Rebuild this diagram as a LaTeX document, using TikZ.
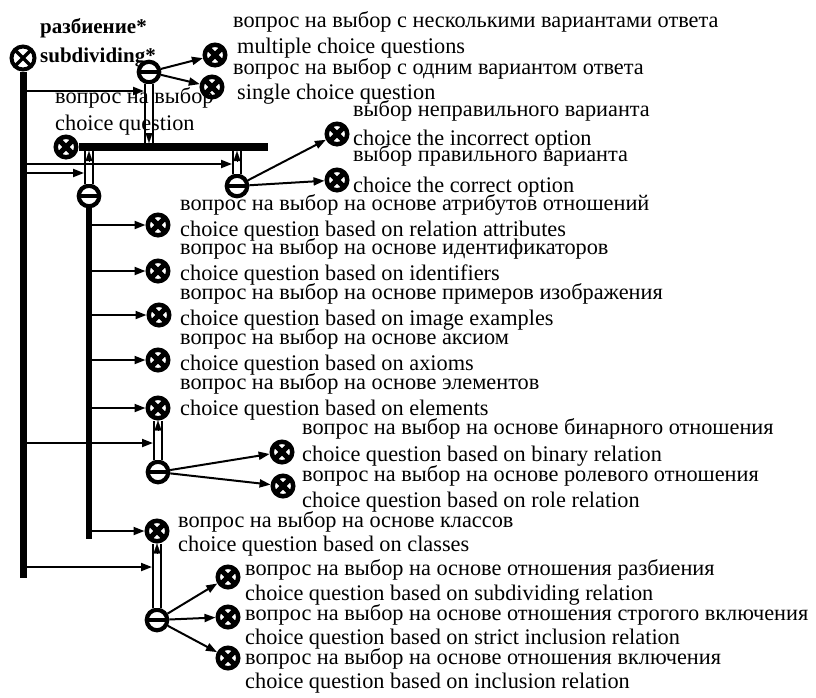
\documentclass[tikz,border=0pt]{standalone}
\usepackage{fontspec}
\setmainfont{Liberation Serif}
\usetikzlibrary{arrows.meta,calc}
\tikzset{
  clsnode/.style={circle, draw, line width=4.5pt, fill=white, minimum size=20.5pt, inner sep=0pt,
    path picture={\draw[line width=5.2pt]
      (path picture bounding box.north west) -- (path picture bounding box.south east)
      (path picture bounding box.north east) -- (path picture bounding box.south west);}},
  rootnode/.style={circle, draw, line width=4pt, fill=white, minimum size=23pt, inner sep=0pt,
    path picture={\draw[line width=3.4pt]
      (path picture bounding box.north west) -- (path picture bounding box.south east)
      (path picture bounding box.north east) -- (path picture bounding box.south west);}},
  tupnode/.style={circle, draw, line width=4.2pt, fill=white, minimum size=20.5pt, inner sep=0pt,
    path picture={\draw[line width=4pt]
      (path picture bounding box.west) -- (path picture bounding box.east);}},
  acc/.style={line width=2pt, -{Triangle[length=11pt,width=8pt]}},
  dbl/.style={draw, line width=1.8pt, double distance=6pt},
  tiparr/.style={line width=0.1pt, -{Triangle[length=10pt,width=7pt]}},
  bus/.style={line width=7pt},
  lab/.style={anchor=base west, inner sep=0pt, font=\fontsize{22.3}{26}\selectfont},
  blab/.style={anchor=base west, inner sep=0pt, font=\fontsize{21}{24}\selectfont\bfseries},
}
\begin{document}
\begin{tikzpicture}[x=1pt,y=-1pt]
\useasboundingbox (0,0) rectangle (816,697);

% ---------- coordinates ----------
\coordinate (rootend) at (23,578);
\coordinate (barend) at (268,147);
\coordinate (b1) at (149,143);
\coordinate (b2) at (237,151);
\coordinate (b3) at (89,151);
\coordinate (t3end) at (89,539);
\coordinate (r1) at (23,91);   \coordinate (d1) at (144,91);
\coordinate (r2) at (23,164);  \coordinate (d2) at (232,164);
\coordinate (r3) at (23,173);  \coordinate (d3) at (84,173);
\coordinate (r4) at (23,443);  \coordinate (d4) at (153,443);
\coordinate (r5) at (23,567);  \coordinate (d5) at (152,567);
\coordinate (s1) at (89,225);
\coordinate (s2) at (89,271);
\coordinate (s3) at (89,315);
\coordinate (s4) at (89,360);
\coordinate (s5) at (89,408);
\coordinate (s6) at (89,531);

% ---------- nodes ----------
\node[rootnode] (root) at (23,58) {};
\node[clsnode] (cq) at (66,147) {};
\node[tupnode] (t1) at (149,72) {};
\node[clsnode] (mcq) at (215,55) {};
\node[clsnode] (scq) at (212,87) {};
\node[tupnode] (t2) at (237,186) {};
\node[clsnode] (inc) at (337,134) {};
\node[clsnode] (cor) at (337,180) {};
\node[tupnode] (t3) at (89,196) {};
\node[clsnode] (attr) at (158,225) {};
\node[clsnode] (ident) at (158,271) {};
\node[clsnode] (img) at (159,315) {};
\node[clsnode] (ax) at (158,360) {};
\node[clsnode] (el) at (158,408) {};
\node[tupnode] (t4) at (158,472) {};
\node[clsnode] (bin) at (282,452) {};
\node[clsnode] (role) at (283,486) {};
\node[clsnode] (cls) at (157,531) {};
\node[tupnode] (t5) at (157,620) {};
\node[clsnode] (sub) at (228,577) {};
\node[clsnode] (strict) at (228,617) {};
\node[clsnode] (incl) at (228,658) {};

% ---------- buses ----------
\draw[bus] (root.south) -- (rootend);
\draw[line width=8pt] (cq.east) -- (barend);
\draw[line width=6.5pt] (t3.south) -- (t3end);

% ---------- double (common) arcs ----------
\draw[dbl] (t1.south) -- (b1);
\draw[tiparr] ($(b1)+(0,-10)$) -- (b1);
\draw[dbl] (t2.north) -- (b2);
\draw[tiparr] ($(b2)+(0,10)$) -- (b2);
\draw[dbl] (t3.north) -- (b3);
\draw[tiparr] ($(b3)+(0,10)$) -- (b3);
\draw[dbl] (t4.north) -- (el.south);
\draw[tiparr] ($(el.south)+(0,10)$) -- (el.south);
\draw[dbl] (t5.north) -- (cls.south);
\draw[tiparr] ($(cls.south)+(0,10)$) -- (cls.south);

% ---------- access arcs ----------
\draw[acc] (r1) -- (d1);
\draw[acc] (r2) -- (d2);
\draw[acc] (r3) -- (d3);
\draw[acc] (r4) -- (d4);
\draw[acc] (r5) -- (d5);
\draw[acc] (t1) -- (mcq);
\draw[acc] (t1) -- (scq);
\draw[acc] (t2) -- (inc);
\draw[acc] (t2) -- (cor);
\draw[acc] (s1) -- (attr);
\draw[acc] (s2) -- (ident);
\draw[acc] (s3) -- (img);
\draw[acc] (s4) -- (ax);
\draw[acc] (s5) -- (el);
\draw[acc] (s6) -- (cls);
\draw[acc] (t4) -- (bin);
\draw[acc] (t4) -- (role);
\draw[acc] (t5) -- (sub);
\draw[acc] (t5) -- (strict);
\draw[acc] (t5) -- (incl);

% ---------- labels ----------
\node[blab] (lroot1) at (40,33) {разбиение*};
\node[blab] (lroot2) at (40,62) {subdividing*};
\node[lab] (lcq1) at (55,103) {вопрос на выбор};
\node[lab] (lcq2) at (55,130) {choice question};
\node[lab] (lmcq1) at (233,27) {вопрос на выбор с несколькими вариантами ответа};
\node[lab] (lmcq2) at (237,53) {multiple choice questions};
\node[lab] (lscq1) at (233,74) {вопрос на выбор с одним вариантом ответа};
\node[lab] (lscq2) at (237,99) {single choice question};
\node[lab] (linc1) at (353,116) {выбор неправильного варианта};
\node[lab] (linc2) at (353,145) {choice the incorrect option};
\node[lab] (lcor1) at (353,161) {выбор правильного варианта};
\node[lab] (lcor2) at (353,192) {choice the correct option};
\node[lab] (lattr1) at (180,210) {вопрос на выбор на основе атрибутов отношений};
\node[lab] (lattr2) at (180,236) {choice question based on relation attributes};
\node[lab] (lid1) at (180,254) {вопрос на выбор на основе идентификаторов};
\node[lab] (lid2) at (180,280) {choice question based on identifiers};
\node[lab] (limg1) at (180,299) {вопрос на выбор на основе примеров изображения};
\node[lab] (limg2) at (180,325) {choice question based on image examples};
\node[lab] (lax1) at (180,344) {вопрос на выбор на основе аксиом};
\node[lab] (lax2) at (180,370) {choice question based on axioms};
\node[lab] (lel1) at (180,389) {вопрос на выбор на основе элементов};
\node[lab] (lel2) at (180,415) {choice question based on elements};
\node[lab] (lbin1) at (302,434) {вопрос на выбор на основе бинарного отношения};
\node[lab] (lbin2) at (302,461) {choice question based on binary relation};
\node[lab] (lrole1) at (302,481) {вопрос на выбор на основе ролевого отношения};
\node[lab] (lrole2) at (302,507) {choice question based on role relation};
\node[lab] (lcls1) at (178,527) {вопрос на выбор на основе классов};
\node[lab] (lcls2) at (178,551) {choice question based on classes};
\node[lab] (lsub1) at (245,575) {вопрос на выбор на основе отношения разбиения};
\node[lab] (lsub2) at (245,600) {choice question based on subdividing relation};
\node[lab] (lstr1) at (245,620) {вопрос на выбор на основе отношения строгого включения};
\node[lab] (lstr2) at (245,644) {choice question based on strict inclusion relation};
\node[lab] (lincl1) at (245,664) {вопрос на выбор на основе отношения включения};
\node[lab] (lincl2) at (245,688) {choice question based on inclusion relation};
\end{tikzpicture}
\end{document}
